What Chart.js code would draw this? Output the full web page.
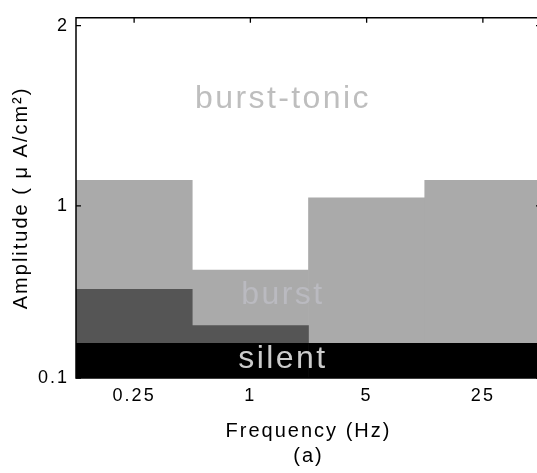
<!DOCTYPE html>
<html>
<head>
<meta charset="utf-8">
<script src="https://cdn.jsdelivr.net/npm/chart.js@4/dist/chart.umd.min.js"></script>
<style>
html,body{margin:0;padding:0;background:#ffffff;overflow:hidden;}
#wrap{width:537px;height:473px;overflow:hidden;}
canvas{display:block;}
</style>
</head>
<body>
<div id="wrap"><canvas id="c" width="541" height="473"></canvas></div>
<script>
// ---- data ----
const categories = ['0.25', '1', '5', '25'];          // Frequency (Hz)
const yTickValues = [0.1, 1, 2];                       // Amplitude tick labels
const silentTop = [0.281, 0.281, 0.281, 0.281];        // upper edge of "silent" (black)
const darkTop = [0.564, 0.374, null, null];            // upper edge of dark-gray region
const burstTop = [1.141, 0.664, 1.044, 1.141];         // upper edge of "burst" (light gray)
const yMin = 0.1;
const yMax = 2.044;

// ---- axis geometry of the original (non-uniform value axis) ----
const Y_ANCHORS = [0.1, 1, 2.044];
const Y_FRACS = [0, 0.478, 1];

class PiecewiseScale extends Chart.LinearScale {
  _frac(v) {
    if (v <= Y_ANCHORS[1]) {
      return Y_FRACS[0] + (v - Y_ANCHORS[0]) / (Y_ANCHORS[1] - Y_ANCHORS[0]) * (Y_FRACS[1] - Y_FRACS[0]);
    }
    return Y_FRACS[1] + (v - Y_ANCHORS[1]) / (Y_ANCHORS[2] - Y_ANCHORS[1]) * (Y_FRACS[2] - Y_FRACS[1]);
  }
  getPixelForValue(v) {
    if (v === null || v === undefined || isNaN(v)) return NaN;
    return this.bottom - this._frac(v) * (this.bottom - this.top);
  }
  getValueForPixel(p) {
    const f = (this.bottom - p) / (this.bottom - this.top);
    if (f <= Y_FRACS[1]) {
      return Y_ANCHORS[0] + (f - Y_FRACS[0]) / (Y_FRACS[1] - Y_FRACS[0]) * (Y_ANCHORS[1] - Y_ANCHORS[0]);
    }
    return Y_ANCHORS[1] + (f - Y_FRACS[1]) / (Y_FRACS[2] - Y_FRACS[1]) * (Y_ANCHORS[2] - Y_ANCHORS[1]);
  }
}
PiecewiseScale.id = 'piecewise';
PiecewiseScale.defaults = Chart.LinearScale.defaults;
Chart.register(PiecewiseScale);

const silentData = silentTop.map(t => [yMin, t]);
const darkData = darkTop.map((t, i) => (t === null ? null : [silentTop[i], t]));
const burstData = burstTop.map((t, i) => [darkTop[i] !== null ? darkTop[i] : silentTop[i], t]);

const FONT = '"Liberation Sans", Arial, Helvetica, sans-serif';

const regionLabels = [
  { text: 'burst-tonic', x: 1.28, y: 1.544, color: '#bebebe' },
  { text: 'burst', x: 1.28, y: 0.488, color: '#babac0' },
  { text: 'silent', x: 1.28, y: 0.150, color: '#cccccc' }
];

const spacingPlugin = {
  id: 'spacing',
  beforeDraw(chart) { chart.ctx.letterSpacing = '2px'; }
};

const regionTextPlugin = {
  id: 'regionText',
  afterDatasetsDraw(chart) {
    const { ctx, scales: { x, y } } = chart;
    ctx.save();
    ctx.font = '32px ' + FONT;
    ctx.letterSpacing = '2.4px';
    ctx.textAlign = 'center';
    ctx.textBaseline = 'alphabetic';
    regionLabels.forEach(l => {
      ctx.fillStyle = l.color;
      ctx.fillText(l.text, x.getPixelForValue(l.x), y.getPixelForValue(l.y));
    });
    ctx.restore();
  }
};

const framePlugin = {
  id: 'frame',
  afterDraw(chart) {
    const { ctx, chartArea: a, scales: { x, y } } = chart;
    ctx.save();
    ctx.strokeStyle = '#000';
    ctx.lineWidth = 1.5;
    ctx.beginPath();
    ctx.moveTo(a.left, a.bottom);
    ctx.lineTo(a.left, a.top);
    ctx.lineTo(a.right, a.top);
    ctx.lineTo(a.right, a.bottom);
    ctx.closePath();
    ctx.stroke();
    ctx.lineWidth = 1.3;
    ctx.beginPath();
    y.ticks.forEach(t => {
      const py = y.getPixelForValue(t.value);
      ctx.moveTo(a.left, py); ctx.lineTo(a.left + 5, py);
      ctx.moveTo(a.right, py); ctx.lineTo(a.right - 5, py);
    });
    x.ticks.forEach((t, i) => {
      const px = x.getPixelForTick(i);
      ctx.moveTo(px, a.top); ctx.lineTo(px, a.top + 5);
      ctx.moveTo(px, a.bottom); ctx.lineTo(px, a.bottom - 5);
    });
    ctx.stroke();
    ctx.restore();
  }
};

new Chart(document.getElementById('c'), {
  type: 'bar',
  data: {
    labels: categories,
    datasets: [
      { label: 'silent', data: silentData, backgroundColor: '#000000' },
      { label: 'dark', data: darkData, backgroundColor: '#555555' },
      { label: 'burst', data: burstData, backgroundColor: '#aaaaaa' }
    ]
  },
  options: {
    responsive: false,
    animation: false,
    devicePixelRatio: 1,
    layout: { padding: { top: 14, right: 0, left: 0, bottom: 0 } },
    datasets: { bar: { grouped: false, barPercentage: 1, categoryPercentage: 1, borderWidth: 0 } },
    plugins: { legend: { display: false }, tooltip: { enabled: false } },
    scales: {
      x: {
        type: 'category',
        offset: true,
        grid: { display: false, drawTicks: false },
        border: { display: false },
        ticks: { color: '#000', font: { family: FONT, size: 18 }, padding: 7, maxRotation: 0 },
        title: {
          display: true,
          text: ['Frequency (Hz)', '(a)'],
          color: '#000',
          font: { family: FONT, size: 20, lineHeight: 1.25 },
          padding: { top: 0, bottom: 4.5 }
        },
        afterFit: s => { s.height = 95; }
      },
      y: {
        type: 'piecewise',
        min: yMin,
        max: yMax,
        grid: { display: false, drawTicks: false },
        border: { display: false },
        afterBuildTicks: s => { s.ticks = yTickValues.map(v => ({ value: v })); },
        ticks: { color: '#000', font: { family: FONT, size: 18 }, padding: 7, callback: v => String(v) },
        title: {
          display: true,
          text: 'Amplitude ( \u03BC A/cm\u00B2)',
          color: '#000',
          font: { family: FONT, size: 20, lineHeight: 1.2 },
          padding: { top: 9, bottom: 0 }
        },
        afterFit: s => { s.width = 76; }
      }
    }
  },
  plugins: [spacingPlugin, regionTextPlugin, framePlugin]
});
</script>
</body>
</html>
